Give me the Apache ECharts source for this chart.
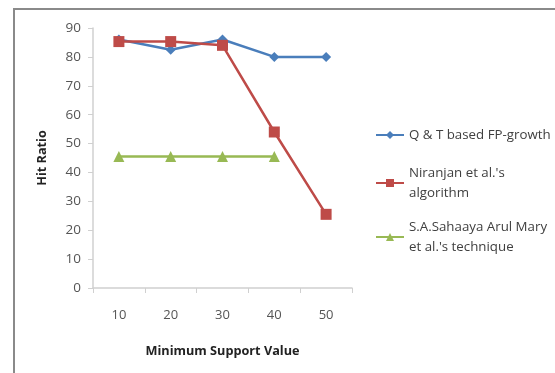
<!DOCTYPE html>
<html><head><meta charset="utf-8">
<script src="https://cdn.jsdelivr.net/npm/echarts@6/dist/echarts.min.js"></script>
<style>html,body{margin:0;padding:0;background:#fff}#c{width:555px;height:373px}</style>
</head><body><div id="c"></div>
<script>
const categories = ['10', '20', '30', '40', '50'];
const qtValues = [86, 82.5, 86, 80, 80];
const niranjanValues = [85.3, 85.3, 84, 54, 25.5];
const maryValues = [45.5, 45.5, 45.5, 45.5, null];
const seriesNames = ["Q & T based FP-growth", "Niranjan et al.'s\nalgorithm", "S.A.Sahaaya Arul Mary\net al.'s technique"];
const yTicks = {min: 0, max: 90, interval: 10};

const font = 'Open Sans, Noto Sans, sans-serif';
const chart = echarts.init(document.getElementById('c'), null, {renderer: 'canvas'});
const legendCommon = {
  orient: 'vertical', left: 370, itemWidth: 28, itemHeight: 10, itemGap: 4,
  textStyle: {fontFamily: font, fontSize: 13.3, color: '#404040', lineHeight: 20}
};
function lg(top, name, twoLine) {
  const o = Object.assign({}, legendCommon, {top: top, data: [name]});
  o.textStyle = Object.assign({}, legendCommon.textStyle, twoLine ? {padding: [20, 0, 0, 0]} : {});
  return o;
}
chart.setOption({
  animation: false,
  graphic: [{type: 'rect', shape: {x: 14, y: 9, width: 600, height: 420}, style: {fill: 'none', stroke: '#8a8a8a', lineWidth: 2}}],
  grid: {left: 93, top: 28, right: 203, bottom: 85, containLabel: false},
  legend: [
    lg(120, seriesNames[0], false),
    lg(148, seriesNames[1], true),
    lg(202, seriesNames[2], true)
  ],
  xAxis: {
    type: 'category', data: categories, boundaryGap: true,
    name: 'Minimum Support Value', nameLocation: 'middle', nameGap: 57,
    nameTextStyle: {fontFamily: font, fontSize: 12.7, fontWeight: 'bold', color: '#222'},
    axisLine: {lineStyle: {color: '#d0d0d0', width: 1.5}},
    axisTick: {show: true, length: 5, lineStyle: {color: '#d0d0d0'}},
    axisLabel: {fontFamily: font, fontSize: 13, color: '#555', margin: 21},
    splitLine: {show: false}
  },
  yAxis: {
    type: 'value', min: yTicks.min, max: yTicks.max, interval: yTicks.interval,
    name: 'Hit Ratio', nameLocation: 'middle', nameGap: 44, nameRotate: 90,
    nameTextStyle: {fontFamily: font, fontSize: 12.7, fontWeight: 'bold', color: '#222'},
    axisLine: {show: true, lineStyle: {color: '#d0d0d0', width: 1.5}},
    axisTick: {show: true, length: 5, lineStyle: {color: '#d0d0d0'}},
    axisLabel: {fontFamily: font, fontSize: 13.5, color: '#555', margin: 12},
    splitLine: {show: false}
  },
  series: [
    {name: seriesNames[0], type: 'line', data: qtValues, symbol: 'diamond', symbolSize: 10,
     lineStyle: {color: '#4a7ebb', width: 2.5}, itemStyle: {color: '#4a7ebb'}, z: 2},
    {name: seriesNames[1], type: 'line', data: niranjanValues, symbol: 'rect', symbolSize: 11,
     lineStyle: {color: '#be4b48', width: 2.5}, itemStyle: {color: '#be4b48'}, z: 3},
    {name: seriesNames[2], type: 'line', data: maryValues, symbol: 'triangle', symbolSize: 11,
     lineStyle: {color: '#98b954', width: 2.5}, itemStyle: {color: '#98b954'}, z: 2}
  ]
});
</script></body></html>
